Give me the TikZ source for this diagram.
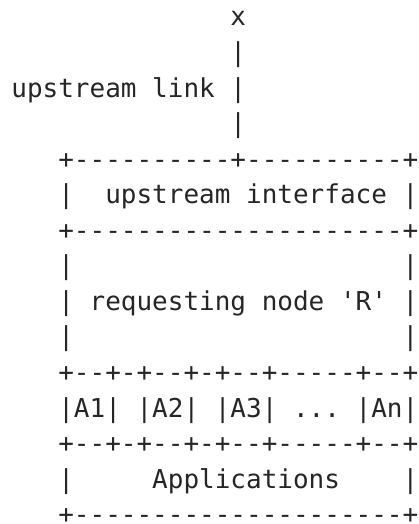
\documentclass[tikz,border=0pt]{standalone}
\usepackage{fontspec}
\setmonofont{DejaVu Sans Mono}
\definecolor{ink}{HTML}{262626}

\begin{document}
\begin{tikzpicture}[x=1pt, y=1pt,
    asc/.style={inner sep=0pt, outer sep=0pt, anchor=base west,
        font=\ttfamily\fontsize{26}{26}\selectfont, text=ink}]
    % grid of the character cells
    \def\cw{15.65}   % width of one character
    \def\lh{35.55}   % height of one line
    \def\xo{-4.3}    % left edge of column 0
    \def\yo{-26}     % baseline of line 1

    \useasboundingbox (0, 0) rectangle (418, -524);

    % Upstream link
    \node[asc] (topx)      at (\xo+15*\cw, \yo) {x};
    \node[asc] (wire1)     at (\xo+15*\cw, \yo-1*\lh) {|};
    \node[asc] (wirelabel) at (\xo+1*\cw,  \yo-2*\lh) {upstream~link~|};
    \node[asc] (wire2)     at (\xo+15*\cw, \yo-3*\lh) {|};

    % Upstream interface
    \node[asc] (ifacetop) at (\xo+4*\cw, \yo-4*\lh) {+----------+----------+};
    \node[asc] (iface)    at (\xo+4*\cw, \yo-5*\lh) {|~~upstream~interface~|};
    \node[asc] (ifacebot) at (\xo+4*\cw, \yo-6*\lh) {+---------------------+};

    % Requesting node
    \node[asc] (rpadal) at (\xo+4*\cw,  \yo-7*\lh) {|};
    \node[asc] (rpadar) at (\xo+26*\cw, \yo-7*\lh) {|};
    \node[asc] (rnode)  at (\xo+4*\cw,  \yo-8*\lh) {|~requesting~node~'R'~|};
    \node[asc] (rpadbl) at (\xo+4*\cw,  \yo-9*\lh) {|};
    \node[asc] (rpadbr) at (\xo+26*\cw, \yo-9*\lh) {|};

    % Applications
    \node[asc] (apptop)  at (\xo+4*\cw, \yo-10*\lh) {+--+-+--+-+--+-----+--+};
    \node[asc] (apps)    at (\xo+4*\cw, \yo-11*\lh) {|A1|~|A2|~|A3|~...~|An|};
    \node[asc] (appbot)  at (\xo+4*\cw, \yo-12*\lh) {+--+-+--+-+--+-----+--+};
    \node[asc] (appname) at (\xo+4*\cw, \yo-13*\lh) {|~~~~~Applications~~~~|};
    \node[asc] (bottom)  at (\xo+4*\cw, \yo-14*\lh) {+---------------------+};

\end{tikzpicture}
\end{document}
